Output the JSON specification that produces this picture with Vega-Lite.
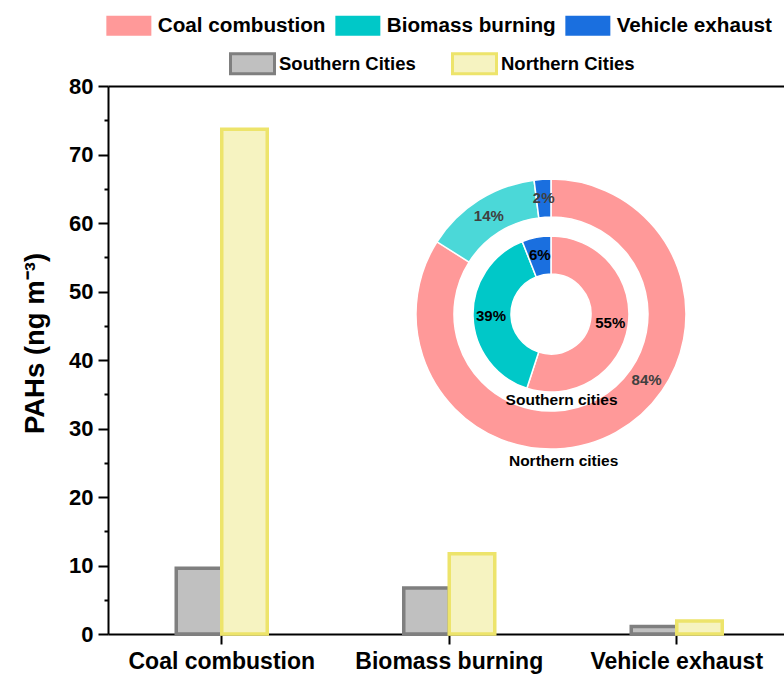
{
  "$schema": "https://vega.github.io/schema/vega-lite/v6.json",
  "width": 676,
  "height": 548,
  "autosize": {"type": "none"},
  "padding": {"left": 108, "top": 86, "right": 0, "bottom": 43},
  "background": "white",
  "config": {
    "view": {"stroke": null},
    "font": "Liberation Sans",
    "axis": {"labelFont": "Liberation Sans", "titleFont": "Liberation Sans", "labelColor": "black", "titleColor": "black", "tickColor": "black", "domainColor": "black", "grid": false},
    "legend": {"labelFont": "Liberation Sans", "labelColor": "black", "labelFontWeight": "bold", "labelLimit": 400},
    "text": {"font": "Liberation Sans"}
  },
  "datasets": {
    "concentrations": [
      {"source": "Coal combustion", "city": "Southern Cities", "pahs": 9.6},
      {"source": "Coal combustion", "city": "Northern Cities", "pahs": 73.7},
      {"source": "Biomass burning", "city": "Southern Cities", "pahs": 6.7},
      {"source": "Biomass burning", "city": "Northern Cities", "pahs": 11.7},
      {"source": "Vehicle exhaust", "city": "Southern Cities", "pahs": 1.1},
      {"source": "Vehicle exhaust", "city": "Northern Cities", "pahs": 1.9}
    ],
    "shares": [
      {"ring": "Northern cities", "source": "Coal combustion", "share": 0.84, "rank": 1},
      {"ring": "Northern cities", "source": "Biomass burning", "share": 0.14, "rank": 2},
      {"ring": "Northern cities", "source": "Vehicle exhaust", "share": 0.02, "rank": 3},
      {"ring": "Southern cities", "source": "Coal combustion", "share": 0.55, "rank": 1},
      {"ring": "Southern cities", "source": "Biomass burning", "share": 0.39, "rank": 2},
      {"ring": "Southern cities", "source": "Vehicle exhaust", "share": 0.06, "rank": 3}
    ]
  },
  "layer": [
    {
      "data": {"name": "concentrations"},
      "mark": {"type": "bar", "strokeWidth": 3.5},
      "encoding": {
        "x": {
          "field": "source", "type": "nominal",
          "sort": ["Coal combustion", "Biomass burning", "Vehicle exhaust"],
          "scale": {"range": [0, 682.5], "paddingInner": 0.6, "paddingOuter": 0.3},
          "axis": {"title": null, "labelAngle": 0, "labelFontSize": 23, "labelFontWeight": "bold", "labelLimit": 400, "labelPadding": 6, "tickSize": 10, "tickWidth": 2, "domainWidth": 2}
        },
        "xOffset": {
          "field": "city", "type": "nominal",
          "sort": ["Southern Cities", "Northern Cities"],
          "scale": {"paddingInner": 0, "paddingOuter": 0}
        },
        "y": {
          "field": "pahs", "type": "quantitative",
          "scale": {"domain": [0, 80], "nice": false},
          "axis": {"title": "PAHs (ng m⁻³)", "values": [0, 10, 20, 30, 40, 50, 60, 70, 80], "labelFontSize": 22, "labelFontWeight": "bold", "labelPadding": 5, "tickSize": 10, "tickWidth": 2, "domainWidth": 2, "titleFontSize": 27.5, "titleFontWeight": "bold", "titlePadding": 19, "titleY": 257}
        },
        "color": {
          "field": "city", "type": "nominal",
          "scale": {"domain": ["Southern Cities", "Northern Cities"], "range": ["#c0c0c0", "#f6f3c1"]},
          "legend": {"orient": "none", "direction": "horizontal", "columns": 2, "title": null, "legendX": 133, "legendY": -34, "padding": 0, "symbolType": "M-2.2,-1H2.2V1H-2.2Z", "symbolSize": 400, "symbolStrokeWidth": 3, "labelFontSize": 18.5, "labelOffset": 15, "columnPadding": 30}
        },
        "stroke": {
          "field": "city", "type": "nominal",
          "scale": {"domain": ["Southern Cities", "Northern Cities"], "range": ["#7f7f7f", "#ede46b"]},
          "legend": {"orient": "none", "direction": "horizontal", "columns": 2, "title": null, "legendX": 133, "legendY": -34, "padding": 0, "symbolType": "M-2.2,-1H2.2V1H-2.2Z", "symbolSize": 400, "symbolStrokeWidth": 3, "labelFontSize": 18.5, "labelOffset": 15, "columnPadding": 30}
        }
      }
    },
    {
      "data": {"name": "shares"},
      "encoding": {
        "x": {"datum": 0.6553, "type": "quantitative", "scale": {"domain": [0, 1]}, "axis": {"orient": "top", "title": null, "ticks": false, "labels": false, "domain": true, "domainWidth": 2, "domainColor": "black"}},
        "y": {"datum": 46.7, "type": "quantitative", "scale": {"domain": [0, 80], "nice": false}, "axis": {"orient": "left", "title": null, "values": [5, 15, 25, 35, 45, 55, 65, 75], "labels": false, "domain": false, "tickSize": 4, "tickWidth": 2}}
      },
      "layer": [
        {
          "transform": [{"filter": "datum.ring === 'Northern cities'"}],
          "mark": {"type": "arc", "radius": 135, "radius2": 97, "stroke": "white", "strokeWidth": 1.5},
          "encoding": {
            "theta": {"field": "share", "type": "quantitative", "stack": true, "scale": {"domain": [0, 1]}},
            "order": {"field": "rank", "type": "quantitative"},
            "color": {
              "field": "source", "type": "nominal",
              "scale": {"domain": ["Coal combustion", "Biomass burning", "Vehicle exhaust"], "range": ["#ff9999", "#00c8c8", "#1a6fdf"]},
              "legend": {"orient": "none", "direction": "horizontal", "columns": 3, "title": null, "legendX": 10.5, "legendY": -71, "padding": 0, "symbolType": "M-2.25,-1H2.25V1H-2.25Z", "symbolSize": 400, "symbolStrokeWidth": 0, "symbolOpacity": 1, "labelFontSize": 20.7, "labelOffset": 18.5, "columnPadding": 8}
            },
            "opacity": {"condition": {"test": "datum.source === 'Biomass burning'", "value": 0.7}, "value": 1}
          }
        },
        {
          "transform": [{"filter": "datum.ring === 'Southern cities'"}],
          "mark": {"type": "arc", "radius": 78, "radius2": 40, "stroke": "white", "strokeWidth": 1.5},
          "encoding": {
            "theta": {"field": "share", "type": "quantitative", "stack": true, "scale": {"domain": [0, 1]}},
            "order": {"field": "rank", "type": "quantitative"},
            "color": {
              "field": "source", "type": "nominal",
              "scale": {"domain": ["Coal combustion", "Biomass burning", "Vehicle exhaust"], "range": ["#ff9999", "#00c8c8", "#1a6fdf"]},
              "legend": {"orient": "none", "direction": "horizontal", "columns": 3, "title": null, "legendX": 10.5, "legendY": -71, "padding": 0, "symbolType": "M-2.25,-1H2.25V1H-2.25Z", "symbolSize": 400, "symbolStrokeWidth": 0, "symbolOpacity": 1, "labelFontSize": 20.7, "labelOffset": 18.5, "columnPadding": 8}
            }
          }
        },
        {
          "transform": [{"filter": "datum.ring === 'Northern cities'"}],
          "mark": {"type": "text", "radius": 116, "fontSize": 15, "fontWeight": "bold", "color": "#404040", "align": "center", "baseline": "middle"},
          "encoding": {
            "theta": {"field": "share", "type": "quantitative", "stack": true, "scale": {"domain": [0, 1]}},
            "order": {"field": "rank", "type": "quantitative"},
            "detail": {"field": "source", "type": "nominal"},
            "text": {"condition": {"test": "datum.source === 'Coal combustion'", "value": ""}, "field": "share", "type": "quantitative", "format": ".0%"}
          }
        },
        {
          "transform": [{"filter": "datum.ring === 'Northern cities' && datum.source === 'Coal combustion'"}],
          "mark": {"type": "text", "radius": 116, "theta": 2.173, "fontSize": 15, "fontWeight": "bold", "color": "#404040", "align": "center", "baseline": "middle"},
          "encoding": {
            "text": {"field": "share", "type": "quantitative", "format": ".0%"}
          }
        },
        {
          "transform": [{"filter": "datum.ring === 'Southern cities'"}],
          "mark": {"type": "text", "radius": 60, "fontSize": 15, "fontWeight": "bold", "color": "black", "align": "center", "baseline": "middle"},
          "encoding": {
            "theta": {"field": "share", "type": "quantitative", "stack": true, "scale": {"domain": [0, 1]}},
            "order": {"field": "rank", "type": "quantitative"},
            "detail": {"field": "source", "type": "nominal"},
            "text": {"field": "share", "type": "quantitative", "format": ".0%"}
          }
        },
        {
          "transform": [{"filter": "datum.ring === 'Southern cities' && datum.rank === 1"}],
          "mark": {"type": "text", "fontSize": 15.5, "fontWeight": "bold", "color": "black", "align": "center", "baseline": "middle"},
          "encoding": {
            "x": {"datum": 0.671, "type": "quantitative", "scale": {"domain": [0, 1]}, "axis": {"orient": "top", "title": null, "ticks": false, "labels": false, "domain": true, "domainWidth": 2, "domainColor": "black"}},
            "y": {"datum": 34.2, "type": "quantitative", "scale": {"domain": [0, 80], "nice": false}, "axis": {"orient": "left", "title": null, "values": [5, 15, 25, 35, 45, 55, 65, 75], "labels": false, "domain": false, "tickSize": 4, "tickWidth": 2}},
            "text": {"field": "ring", "type": "nominal"}
          }
        },
        {
          "transform": [{"filter": "datum.ring === 'Northern cities' && datum.rank === 1"}],
          "mark": {"type": "text", "fontSize": 15.5, "fontWeight": "bold", "color": "black", "align": "center", "baseline": "middle"},
          "encoding": {
            "x": {"datum": 0.674, "type": "quantitative", "scale": {"domain": [0, 1]}, "axis": {"orient": "top", "title": null, "ticks": false, "labels": false, "domain": true, "domainWidth": 2, "domainColor": "black"}},
            "y": {"datum": 25.2, "type": "quantitative", "scale": {"domain": [0, 80], "nice": false}, "axis": {"orient": "left", "title": null, "values": [5, 15, 25, 35, 45, 55, 65, 75], "labels": false, "domain": false, "tickSize": 4, "tickWidth": 2}},
            "text": {"field": "ring", "type": "nominal"}
          }
        }
      ]
    }
  ],
  "resolve": {"scale": {"x": "independent", "color": "independent", "stroke": "independent"}, "axis": {"y": "independent"}}
}
